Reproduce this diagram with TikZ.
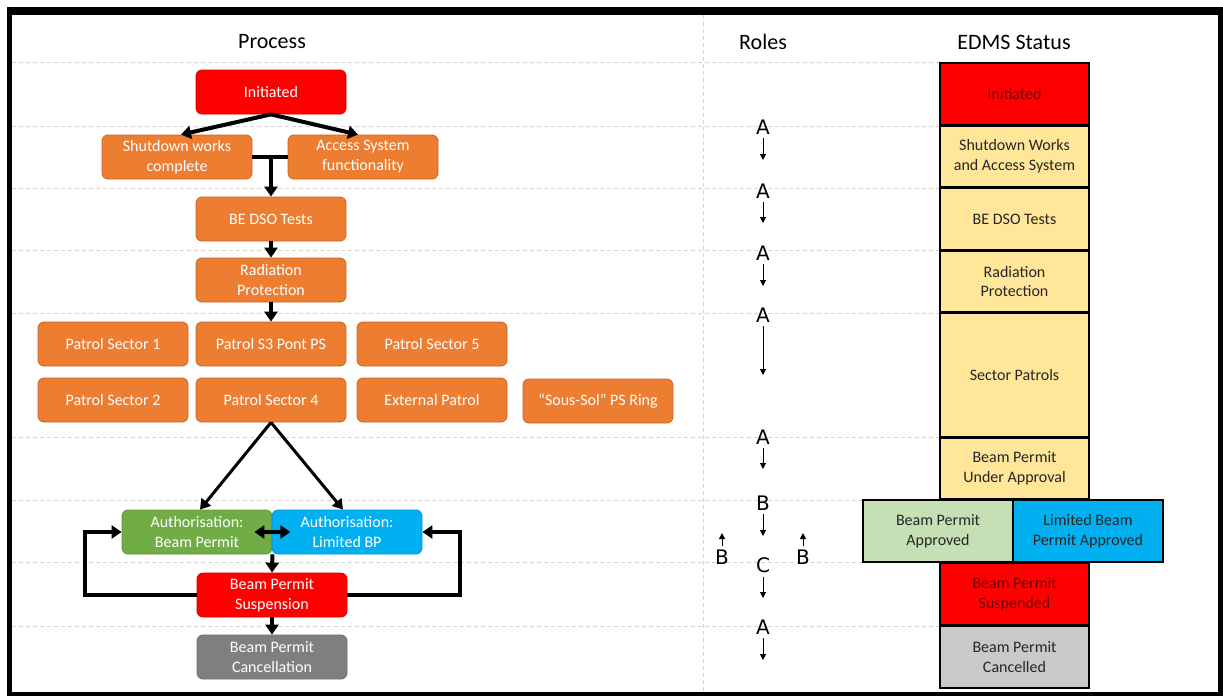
\documentclass[tikz,border=0pt]{standalone}
\usepackage{fontspec}
\setmainfont{Carlito}
\newfontfamily\rolefont{DejaVu Sans}
\usetikzlibrary{arrows.meta,calc}
\definecolor{orng}{HTML}{ED7D31}
\definecolor{orngd}{HTML}{C9651F}
\definecolor{redb}{HTML}{FF0000}
\definecolor{redd}{HTML}{D40000}
\definecolor{grnb}{HTML}{70AD47}
\definecolor{grnd}{HTML}{5E9A3A}
\definecolor{blub}{HTML}{00B0F0}
\definecolor{blud}{HTML}{0095CC}
\definecolor{gryb}{HTML}{7F7F7F}
\definecolor{gryd}{HTML}{6E6E6E}
\definecolor{edyel}{HTML}{FFE699}
\definecolor{edgrn}{HTML}{C5E0B4}
\definecolor{edgry}{HTML}{C9C9C9}
\definecolor{txtd}{HTML}{262626}
\definecolor{txtr}{HTML}{700000}
\definecolor{gridc}{HTML}{D4D4D4}
\tikzset{
  proc/.style={rectangle, rounded corners=6pt, draw=orngd, line width=0.8pt, fill=orng,
    text=white, minimum width=150pt, minimum height=44pt, inner sep=0pt, align=center,
    font=\fontsize{16}{20}\selectfont},
  edms/.style={rectangle, draw=black, line width=2.5pt, fill=edyel, minimum width=149pt,
    inner sep=0pt, align=center, text=txtd, font=\fontsize{16}{20}\selectfont},
  hdr/.style={font=\fontsize{22}{26}\selectfont, text=black},
  role/.style={font=\rolefont\fontsize{20}{24}\selectfont, text=black, inner sep=0pt},
  arr/.style={line width=4pt, -{Triangle[length=10pt,width=13pt]}},
  arrb/.style={line width=3pt, -{Triangle[length=10pt,width=12pt]}},
  rarr/.style={line width=1pt, -{Triangle[length=6pt,width=6pt]}},
  grid/.style={draw=gridc, line width=1pt, dash pattern=on 4pt off 3pt},
}
\begin{document}
\begin{tikzpicture}[x=1pt,y=-1pt]
\useasboundingbox[fill=white] (0,0) rectangle (1223,696);
\fill[black] (7,7) rectangle (1223,696);
\fill[white] (12,15) rectangle (1218,692);

% grid lines
\foreach \yy in {62,126,188,250,313,437,500,562,626}
  \draw[grid] (12,\yy) -- (940,\yy);
\draw[grid] (703,15) -- (703,692);

% headers
\node[hdr] (hproc) at (272,42) {Process};
\node[hdr] (hrole) at (763,42) {Roles};
\node[hdr] (hedms) at (1014,42) {EDMS Status};

% process nodes
\node[proc, fill=redb, draw=redd] (init) at (271,92) {Initiated};
\node[proc] (shut) at (177,157) {Shutdown works\\complete};
\node[proc] (acc) at (363,157) {Access System\\functionality};
\node[proc] (bedso) at (271,219) {BE DSO Tests};
\node[proc] (rad) at (271,280) {Radiation\\Protection};
\node[proc] (ps1) at (113,344) {Patrol Sector 1};
\node[proc] (ps3) at (271,344) {Patrol S3 Pont PS};
\node[proc] (ps5) at (432,344) {Patrol Sector 5};
\node[proc] (ps2) at (113,400) {Patrol Sector 2};
\node[proc] (ps4) at (271,400) {Patrol Sector 4};
\node[proc] (ext) at (432,400) {External Patrol};
\node[proc] (sous) at (598,401) {“Sous-Sol” PS Ring};
\node[proc, fill=grnb, draw=grnd] (abp) at (197,532) {Authorisation:\\Beam Permit};
\node[proc, fill=blub, draw=blud] (albp) at (347,532) {Authorisation:\\Limited BP};
\node[proc, fill=redb, draw=redd] (susp) at (272,595) {Beam Permit\\Suspension};
\node[proc, fill=gryb, draw=gryd] (canc) at (272,657) {Beam Permit\\Cancellation};

% process connectors
\draw[arr] (init.south) -- ([xshift=4pt]shut.north);
\draw[arr] (init.south) -- ([xshift=-5pt]acc.north);
\draw[line width=4pt] (shut.east) -- (acc.west);
\coordinate (join) at (bedso.north |- shut.east);
\draw[arr] (join) -- (bedso.north);
\draw[arr] (bedso.south) -- (rad.north);
\draw[arr] (rad.south) -- (ps3.north);
\draw[arrb] (ps4.south) -- ([xshift=3pt]abp.north);
\draw[arrb] (ps4.south) -- ([xshift=-4pt]albp.north);
\draw[line width=4pt, {Triangle[length=10pt,width=13pt]}-{Triangle[length=10pt,width=13pt]}]
  ([xshift=-18pt]abp.east) -- ([xshift=18pt]abp.east);
\draw[arr] (abp.south east) -- (susp.north);
\draw[arr] (susp.west) -- ++(-112,0) |- (abp.west);
\draw[arr] (susp.east) -- ++(113,0) |- (albp.east);
\draw[arr] (susp.south) -- (canc.north);

% roles
\node[role] (r1) at (763,127) {A};
\coordinate (r1e) at (763,160);
\draw[rarr] ([yshift=-4pt]r1.south) -- (r1e);
\node[role] (r2) at (763,191) {A};
\coordinate (r2e) at (763,223);
\draw[rarr] ([yshift=-4pt]r2.south) -- (r2e);
\node[role] (r3) at (763,253) {A};
\coordinate (r3e) at (763,286);
\draw[rarr] ([yshift=-4pt]r3.south) -- (r3e);
\node[role] (r4) at (763,315) {A};
\coordinate (r4e) at (763,375);
\draw[rarr] ([yshift=-4pt]r4.south) -- (r4e);
\node[role] (r5) at (763,437) {A};
\coordinate (r5e) at (763,469);
\draw[rarr] ([yshift=-4pt]r5.south) -- (r5e);
\node[role] (r6) at (763,503) {B};
\coordinate (r6e) at (763,536);
\draw[rarr] ([yshift=-4pt]r6.south) -- (r6e);
\node[role] (r7) at (763,565) {C};
\coordinate (r7e) at (763,598);
\draw[rarr] ([yshift=-4pt]r7.south) -- (r7e);
\node[role] (r8) at (763,627) {A};
\coordinate (r8e) at (763,660);
\draw[rarr] ([yshift=-4pt]r8.south) -- (r8e);
\node[role] (bl) at (722,557) {B};
\coordinate (ble) at (722,533);
\draw[rarr] ([yshift=4pt]bl.north) -- (ble);
\node[role] (br) at (803,557) {B};
\coordinate (bre) at (803,533);
\draw[rarr] ([yshift=4pt]br.north) -- (bre);

% EDMS column
\node[edms, fill=redb, text=txtr, minimum height=62pt] (e1) at (1014.5,94) {Initiated};
\node[edms, minimum height=61pt] (e2) at (1014.5,156.5) {Shutdown Works\\and Access System};
\node[edms, minimum height=62pt] (e3) at (1014.5,219) {BE DSO Tests};
\node[edms, minimum height=61pt] (e4) at (1014.5,281.5) {Radiation\\Protection};
\node[edms, minimum height=124pt] (e5) at (1014.5,375) {Sector Patrols};
\node[edms, minimum height=61pt] (e6) at (1014.5,468.5) {Beam Permit\\Under Approval};
\node[edms, fill=redb, text=txtr, minimum height=62pt] (e9) at (1014.5,594) {Beam Permit\\Suspended};
\node[edms, fill=edgry, minimum height=62pt] (e10) at (1014.5,657) {Beam Permit\\Cancelled};
\node[edms, fill=edgrn, minimum width=150pt, minimum height=62pt] (e7) at (938,531) {Beam Permit\\Approved};
\node[edms, fill=blub, minimum width=150pt, minimum height=62pt] (e8) at (1088,531) {Limited Beam\\Permit Approved};
\end{tikzpicture}
\end{document}
